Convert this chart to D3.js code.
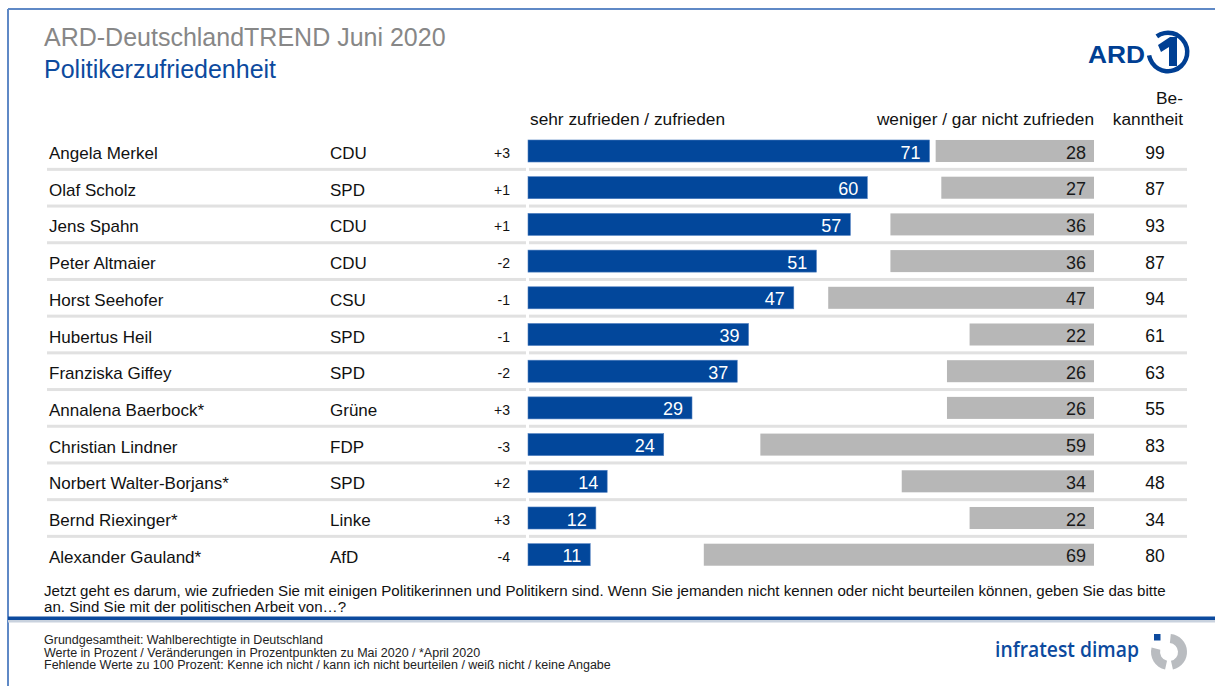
<!DOCTYPE html>
<html lang="de">
<head>
<meta charset="utf-8">
<script src="https://cdn.jsdelivr.net/npm/d3@7"></script>
<style>
  html, body { margin: 0; padding: 0; background: #fff; }
  svg { display: block; font-family: "Liberation Sans", Arial, sans-serif; }
</style>
</head>
<body>
<svg id="chart" width="1215" height="686"></svg>
<script>
// Politiker, Partei, Veränderung zum Vormonat, Zufriedenheit, Bekanntheit
const politicians = ["Angela Merkel", "Olaf Scholz", "Jens Spahn", "Peter Altmaier", "Horst Seehofer",
  "Hubertus Heil", "Franziska Giffey", "Annalena Baerbock*", "Christian Lindner",
  "Norbert Walter-Borjans*", "Bernd Riexinger*", "Alexander Gauland*"];
const parties = ["CDU", "SPD", "CDU", "CDU", "CSU", "SPD", "SPD", "Grüne", "FDP", "SPD", "Linke", "AfD"];
const changes = ["+3", "+1", "+1", "-2", "-1", "-1", "-2", "+3", "-3", "+2", "+3", "-4"];
const satisfied = [71, 60, 57, 51, 47, 39, 37, 29, 24, 14, 12, 11];
const dissatisfied = [28, 27, 36, 36, 47, 22, 26, 26, 59, 34, 22, 69];
const awareness = [99, 87, 93, 87, 94, 61, 63, 55, 83, 48, 34, 80];

const BLUE = "#02479b";
const GREY = "#b7b7b7";
const svg = d3.select("#chart");

// Rahmen
svg.append("line").attr("x1", 8).attr("x2", 1215).attr("y1", 9).attr("y2", 9)
  .attr("stroke", "#5f89c6").attr("stroke-width", 2);
svg.append("line").attr("x1", 8).attr("x2", 8).attr("y1", 9).attr("y2", 686)
  .attr("stroke", "#5f89c6").attr("stroke-width", 2);

// Titel
svg.append("text").attr("x", 44).attr("y", 46).attr("font-size", 25).attr("fill", "#878787")
  .text("ARD-DeutschlandTREND Juni 2020");
svg.append("text").attr("x", 44).attr("y", 78).attr("font-size", 25).attr("fill", "#0c4a9e")
  .text("Politikerzufriedenheit");

// ARD-Logo
const ard = svg.append("g");
ard.append("text").attr("x", 1088).attr("y", 63).attr("font-size", 23).attr("font-weight", "bold")
  .attr("fill", "#003f93").attr("textLength", 57).attr("lengthAdjust", "spacingAndGlyphs").text("ARD");
const ring = d3.arc().innerRadius(17).outerRadius(21.5);
ard.append("path").attr("transform", "translate(1168,52)")
  .attr("d", ring({startAngle: -0.62, endAngle: 2 * Math.PI - 1.75}))
  .attr("fill", "#003f93");
ard.append("path")
  .attr("d", "M1158,45 L1170,37 L1177,37 L1177,66 L1169,66 L1169,47 L1161,52 Z")
  .attr("fill", "#003f93");

// Skalen
const y = d3.scaleBand().domain(politicians).range([132.65, 573.05]).paddingInner(0.4).paddingOuter(0.2);
const xPos = d3.scaleLinear().domain([0, 100]).range([528, 528 + 565.5]);
const xNeg = d3.scaleLinear().domain([0, 100]).range([1094, 1094 - 565.5]);
const step = y.step();

// Spaltenköpfe
const head = svg.append("g").attr("font-size", 17.3).attr("fill", "#111");
head.append("text").attr("x", 530).attr("y", 125).text("sehr zufrieden / zufrieden");
head.append("text").attr("x", 1094).attr("y", 125).attr("text-anchor", "end").text("weniger / gar nicht zufrieden");
head.append("text").attr("x", 1183).attr("y", 104).attr("text-anchor", "end").text("Be-");
head.append("text").attr("x", 1183).attr("y", 125).attr("text-anchor", "end").text("kanntheit");

// Trennlinien zwischen den Zeilen
const seps = svg.append("g");
politicians.slice(1).forEach(p => {
  const yy = y(p) - step * 0.2;
  seps.append("rect").attr("x", 47).attr("width", 479).attr("y", yy - 1.5).attr("height", 3).attr("fill", "#e1e1e1");
  seps.append("rect").attr("x", 529).attr("width", 658).attr("y", yy - 1.5).attr("height", 3).attr("fill", "#e1e1e1");
});

const rows = svg.append("g").selectAll("g").data(politicians).join("g")
  .attr("transform", d => `translate(0,${y(d) + y.bandwidth() / 2})`);

rows.append("text").attr("x", 49).attr("y", 8).attr("font-size", 17).attr("fill", "#111").text(d => d);
rows.append("text").attr("x", 330).attr("y", 8).attr("font-size", 17).attr("fill", "#111").text((d, i) => parties[i]);
rows.append("text").attr("x", 510).attr("y", 7).attr("font-size", 14).attr("fill", "#111")
  .attr("text-anchor", "end").text((d, i) => changes[i]);

// Zufrieden (blau)
rows.append("rect").attr("x", xPos(0)).attr("y", -y.bandwidth() / 2)
  .attr("width", (d, i) => xPos(satisfied[i]) - xPos(0)).attr("height", y.bandwidth())
  .attr("fill", BLUE).attr("stroke", "#4f7fc0").attr("stroke-width", 0.6);
rows.append("text").attr("x", (d, i) => xPos(satisfied[i]) - 9).attr("y", 7.5)
  .attr("font-size", 18).attr("fill", "#fff").attr("text-anchor", "end").text((d, i) => satisfied[i]);

// Unzufrieden (grau)
rows.append("rect").attr("x", (d, i) => xNeg(dissatisfied[i])).attr("y", -y.bandwidth() / 2)
  .attr("width", (d, i) => xNeg(0) - xNeg(dissatisfied[i])).attr("height", y.bandwidth())
  .attr("fill", GREY);
rows.append("text").attr("x", xNeg(0) - 8).attr("y", 7.5)
  .attr("font-size", 18).attr("fill", "#1a1a1a").attr("text-anchor", "end").text((d, i) => dissatisfied[i]);

// Bekanntheit
rows.append("text").attr("x", 1155).attr("y", 7.5).attr("font-size", 17.5).attr("fill", "#111")
  .attr("text-anchor", "middle").text((d, i) => awareness[i]);

// Fragetext
const q = svg.append("g").attr("font-size", 15.1).attr("fill", "#111");
q.append("text").attr("x", 44).attr("y", 596)
  .text("Jetzt geht es darum, wie zufrieden Sie mit einigen Politikerinnen und Politikern sind. Wenn Sie jemanden nicht kennen oder nicht beurteilen können, geben Sie das bitte");
q.append("text").attr("x", 44).attr("y", 612).text("an. Sind Sie mit der politischen Arbeit von…?");

// Fußbereich
svg.append("rect").attr("x", 8).attr("y", 616.5).attr("width", 1207).attr("height", 3.5).attr("fill", "#0c4a9e");
svg.append("rect").attr("x", 8).attr("y", 620).attr("width", 1207).attr("height", 2.5).attr("fill", "#c9d2de");

const notes = ["Grundgesamtheit: Wahlberechtigte in Deutschland",
  "Werte in Prozent / Veränderungen in Prozentpunkten zu Mai 2020 / *April 2020",
  "Fehlende Werte zu 100 Prozent: Kenne ich nicht / kann ich nicht beurteilen / weiß nicht / keine Angabe"];
svg.append("g").attr("font-size", 12.5).attr("fill", "#222")
  .style("font-family", "'Liberation Sans Narrow', 'Arial Narrow', sans-serif")
  .selectAll("text").data(notes).join("text")
  .attr("x", 44).attr("y", (d, i) => 644 + i * 12.5).text(d => d);

// infratest dimap Logo
svg.append("text").attr("x", 995).attr("y", 657).attr("font-size", 21).attr("font-weight", 600)
  .style("font-family", "'Open Sans', sans-serif").attr("fill", "#0c4a9e")
  .attr("textLength", 144).attr("lengthAdjust", "spacingAndGlyphs").text("infratest dimap");
const idLogo = svg.append("g").attr("transform", "translate(1169,652)");
const idRing = d3.arc().innerRadius(9).outerRadius(18);
idLogo.append("path").attr("d", idRing({startAngle: 0.1, endAngle: Math.PI - 0.22})).attr("fill", "#b9bcc0");
idLogo.append("path").attr("d", idRing({startAngle: Math.PI + 0.22, endAngle: Math.PI * 1.5 + 0.25})).attr("fill", "#b9bcc0");
idLogo.append("rect").attr("x", -15).attr("y", -18).attr("width", 6.5).attr("height", 6.5).attr("fill", "#0c4a9e");
</script>
</body>
</html>
